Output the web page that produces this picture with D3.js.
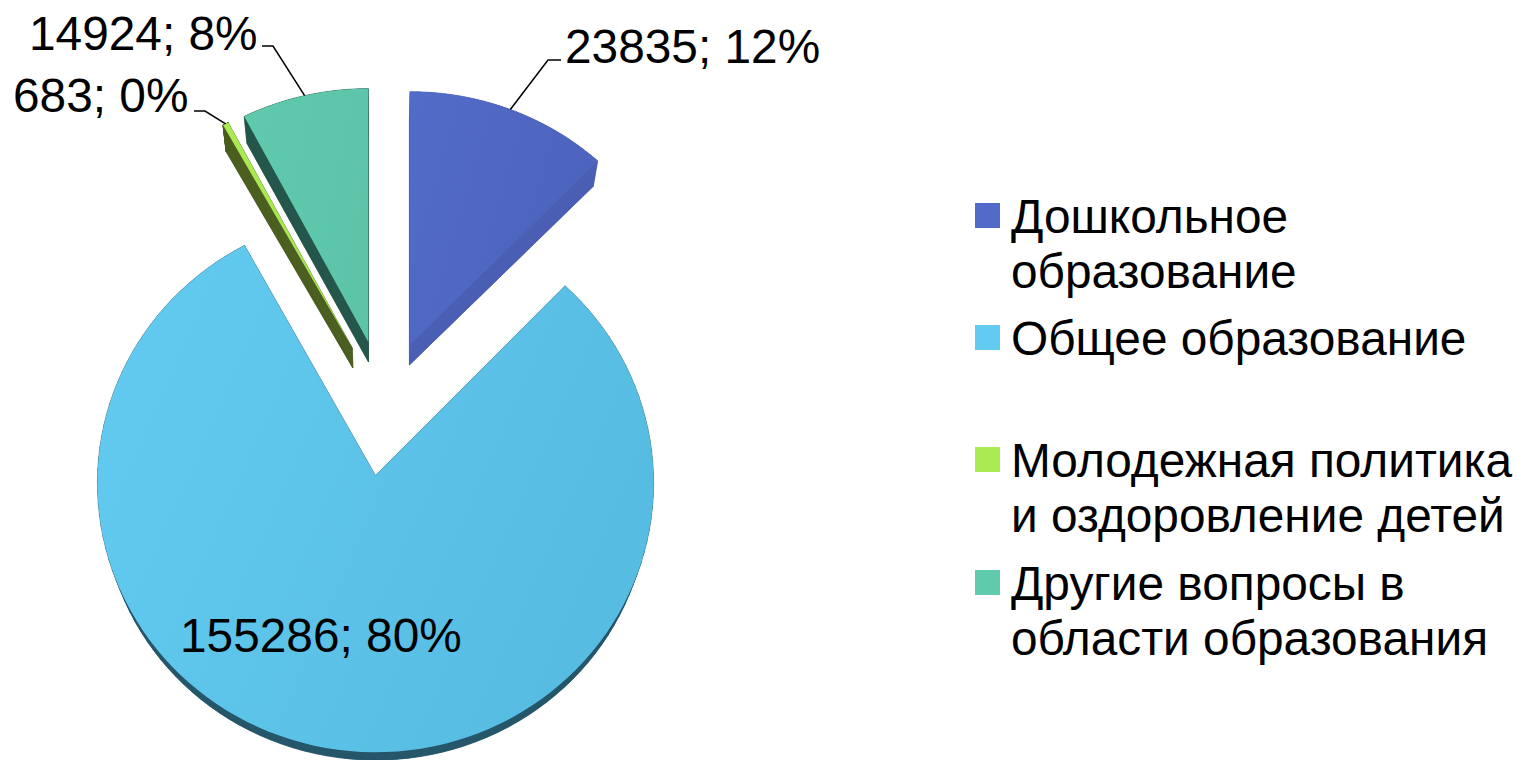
<!DOCTYPE html>
<html>
<head>
<meta charset="utf-8">
<script src="https://cdn.jsdelivr.net/npm/d3@7"></script>
<style>
  html, body { margin: 0; padding: 0; background: #fff; overflow: hidden; }
  svg { display: block; }
  text { font-family: "Liberation Sans", Arial, sans-serif; font-size: 47.8px; fill: #000; }
</style>
</head>
<body>
<svg width="1518" height="760"></svg>
<script>
// Sample data
const categories = ["Дошкольное образование", "Общее образование", "Молодежная политика и оздоровление детей", "Другие вопросы в области образования"];
const values = [23835, 155286, 683, 14924];
const legendLines = [["Дошкольное", "образование"], ["Общее образование"], ["Молодежная политика", "и оздоровление детей"], ["Другие вопросы в", "области образования"]];

const topLight = ["#526bc8", "#63cbf1", "#abea52", "#60caad"];
const topDark = ["#4d64bd", "#57bce2", "#a5e34e", "#5dc4a8"];
const sideColors = ["#4a5fb4", "#25566a", "#4a5f20", "#24564b"];

// Layout
const center = { x: 384.5, y: 408 };
const radius = 278;
const explode = 68;
const tiltY = [0.95, 0.968, 0.95, 0.95];
const persp = [0.0425, 0.028, 0.0425, 0.0425];
const labelPos = [
    { x: 565, y: 63, elbow: [[548, 60], [561, 60]] },
    { x: 180, y: 652, elbow: null },
    { x: 13, y: 112, elbow: [[205, 111], [194, 111]] },
    { x: 29, y: 50, elbow: [[273, 46], [262, 46]] }
];
const legendX = 975, legendTextX = 1011, swatch = 25, lineGap = 55;
const legendY = [233, 355, 477, 600];

const svg = d3.select("svg");
const defs = svg.append("defs");
const total = d3.sum(values);
const pie = d3.pie().sort(null).value(d => d);
const slices = pie(values);

// Flat pie point -> picture, the far side of the disc shrinks a little
function project(a, r, i) {
    const x = r * Math.sin(a), y = -r * Math.cos(a);
    const w = 1 - persp[i] * y / radius;
    return [x / w, y * tiltY[i] / w];
}

// Underside of the disc, a bit smaller and lower than the top
function lower(p) {
    return [380 + 0.98 * (p[0] - 380), p[1] + 20 - 0.03 * (p[1] - 345)];
}

const line = d3.line();

slices.forEach((d, i) => {
    const grad = defs.append("linearGradient")
        .attr("id", "g" + i)
        .attr("x1", 0).attr("y1", 0).attr("x2", 1).attr("y2", 0.4);
    grad.append("stop").attr("offset", 0).attr("stop-color", topLight[i]);
    grad.append("stop").attr("offset", 1).attr("stop-color", topDark[i]);

    const mid = (d.startAngle + d.endAngle) / 2;
    d.apex = [center.x + explode * Math.sin(mid), center.y - explode * Math.cos(mid)];

    const steps = d3.range(0, 121).map(k => d.startAngle + (d.endAngle - d.startAngle) * k / 120);
    const rim = steps.map(a => {
        const p = project(a, radius, i);
        return [d.apex[0] + p[0], d.apex[1] + p[1]];
    });
    d.poly = [d.apex, ...rim];

    const m = project(mid, radius, i);
    d.anchor = [d.apex[0] + m[0], d.apex[1] + m[1]];
});

// Side faces first, one quad per edge of the top face
const sides = svg.append("g");
slices.forEach((d, i) => {
    const low = d.poly.map(lower);
    const color = sides.append("g")
        .attr("fill", sideColors[i])
        .attr("stroke", sideColors[i])
        .attr("stroke-width", 0.5);
    color.append("path").attr("d", line(low) + "Z");
    d.poly.forEach((p, k) => {
        const n = (k + 1) % d.poly.length;
        color.append("path").attr("d", line([p, d.poly[n], low[n], low[k]]) + "Z");
    });
});

// Top faces
svg.append("g").selectAll("path")
    .data(slices)
    .enter()
    .append("path")
    .attr("d", d => line(d.poly) + "Z")
    .attr("fill", (d, i) => `url(#g${i})`);

// Leader lines
svg.append("g").selectAll("path")
    .data(slices.filter((d, i) => labelPos[i].elbow))
    .enter()
    .append("path")
    .attr("d", d => line([d.anchor, ...labelPos[d.index].elbow]))
    .attr("fill", "none")
    .attr("stroke", "#000")
    .attr("stroke-width", 1.5);

// Data labels
svg.append("g").selectAll("text")
    .data(slices)
    .enter()
    .append("text")
    .attr("x", (d, i) => labelPos[i].x)
    .attr("y", (d, i) => labelPos[i].y)
    .text(d => `${d.value}; ${Math.round(d.value / total * 100)}%`);

// Legend
const legend = svg.append("g").selectAll("g")
    .data(categories)
    .enter()
    .append("g");

legend.append("rect")
    .attr("x", legendX)
    .attr("y", (d, i) => legendY[i] - 30)
    .attr("width", swatch)
    .attr("height", swatch)
    .attr("fill", (d, i) => topLight[i]);

legend.each(function(d, i) {
    d3.select(this).selectAll("text")
        .data(legendLines[i])
        .enter()
        .append("text")
        .attr("x", legendTextX)
        .attr("y", (t, k) => legendY[i] + k * lineGap)
        .text(t => t);
});
</script>
</body>
</html>
